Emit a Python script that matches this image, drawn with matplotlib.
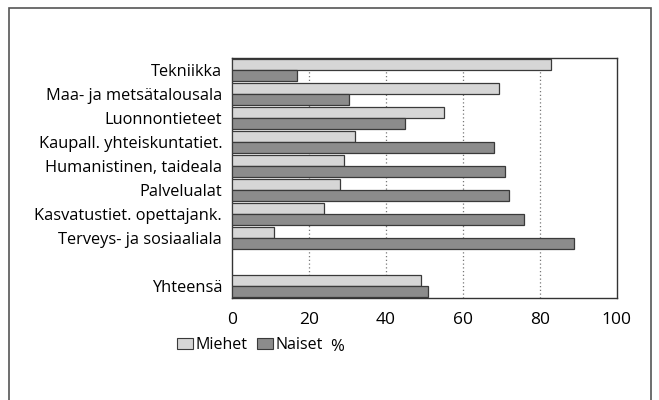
import numpy as np
import matplotlib
matplotlib.use("Agg")
import matplotlib.pyplot as plt
from matplotlib.patches import Patch, Rectangle

plt.rcParams['font.family'] = ['Open Sans', 'DejaVu Sans']

# data (%)
categories = ["Tekniikka", "Maa- ja metsätalousala", "Luonnontieteet",
              "Kaupall. yhteiskuntatiet.", "Humanistinen, taideala",
              "Palvelualat", "Kasvatustiet. opettajank.",
              "Terveys- ja sosiaaliala", "Yhteensä"]
slots = [0, 1, 2, 3, 4, 5, 6, 7, 9]
miehet = [83, 69.5, 55, 32, 29, 28, 24, 11, 49]
naiset = [17, 30.5, 45, 68, 71, 72, 76, 89, 51]
xticks = [0, 20, 40, 60, 80, 100]

light = "#d6d6d6"
dark = "#8c8c8c"
edge = "#3a3a3a"

fig = plt.figure(figsize=(6.59, 4.0), dpi=100)
ax = fig.add_axes([0.352, 0.255, 0.584, 0.600])

h = 0.46
y = np.array(slots, dtype=float)
ax.barh(y - h / 2, miehet, height=h, color=light, edgecolor=edge,
        linewidth=0.9, zorder=3)
ax.barh(y + h / 2, naiset, height=h, color=dark, edgecolor=edge,
        linewidth=0.9, zorder=3)

ax.set_xlim(0, 100)
ax.set_ylim(9.5, -0.5)
ax.set_xticks(xticks)
ax.set_xticklabels([str(v) for v in xticks], fontsize=12.5)
ax.set_yticks(slots)
ax.set_yticklabels(categories, fontsize=11.8)
ax.tick_params(axis='both', length=0)
ax.tick_params(axis='y', pad=7)
ax.tick_params(axis='x', pad=10)
for v in xticks[1:-1]:
    ax.axvline(v, color="#777777", linestyle=(0, (1, 2)), linewidth=0.9, zorder=1)
for s in ax.spines.values():
    s.set_color("#333333")
    s.set_linewidth(1.0)

handles = [Patch(facecolor=light, edgecolor=edge, linewidth=0.8, label="Miehet"),
           Patch(facecolor=dark, edgecolor=edge, linewidth=0.8, label="Naiset")]
fig.legend(handles=handles, loc="center", bbox_to_anchor=(250 / 659, 1 - 345 / 400),
           ncol=2, frameon=False, fontsize=11.5, handlelength=1.0,
           handleheight=0.65, handletextpad=0.17, columnspacing=0.6, borderpad=0,
           borderaxespad=0)
fig.text(337 / 659, 1 - 347 / 400, "%", fontsize=12, ha="center", va="center")

# outer frame
fig.patches.append(Rectangle((9 / 659, -0.02), 642 / 659, 1.02 - 8 / 400,
                             transform=fig.transFigure, fill=False,
                             edgecolor="#555555", linewidth=1.2))

fig.savefig("out.png", dpi=100)
